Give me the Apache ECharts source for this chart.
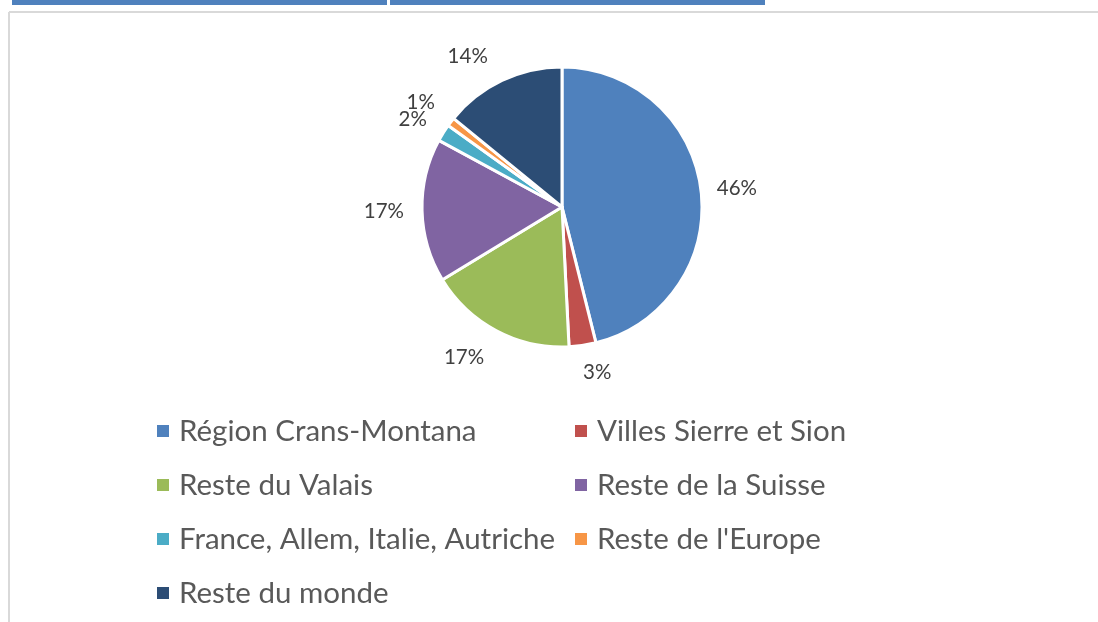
<!DOCTYPE html>
<html>
<head>
<meta charset="utf-8">
<script src="https://cdn.jsdelivr.net/npm/echarts@6/dist/echarts.min.js"></script>
<style>
  html, body { margin: 0; padding: 0; background: #fff; }
  #main { width: 1098px; height: 622px; }
</style>
</head>
<body>
<div id="main"></div>
<script>
// categories + values (share in %)
var categories = ['Région Crans-Montana', 'Villes Sierre et Sion', 'Reste du Valais', 'Reste de la Suisse',
                  'France, Allem, Italie, Autriche', "Reste de l'Europe", 'Reste du monde'];
var values = [46.1, 3.1, 17.1, 16.6, 2.0, 1.0, 14.1];
var colors = ['#4f81bd', '#c0504d', '#9bbb59', '#8064a2', '#4bacc6', '#f79646', '#2c4d75'];

// label line lengths per slice, to put the labels where excel put them
var lineLen = [15, 27, 30, 18, 25, 32, 27];
var lineLen2 = [1, -3.5, -1.7, 0, -4.8, -9.4, 2.6];

var chart = echarts.init(document.getElementById('main'));

var pieData = categories.map(function (name, i) {
    return {
        name: name,
        value: values[i],
        itemStyle: { color: colors[i] },
        labelLine: { show: false, length: lineLen[i], length2: lineLen2[i] }
    };
});

var legendText = { fontFamily: 'Lato', fontSize: 29.5, color: '#595959', lineHeight: 32, padding: [0, 0, 0, 4] };

var option = {
    animation: false,
    backgroundColor: '#fff',
    graphic: [
        // header bars + frame around the chart
        { type: 'rect', shape: { x: 12, y: 0, width: 375, height: 5 }, style: { fill: '#4f81bd' } },
        { type: 'rect', shape: { x: 390, y: 0, width: 375, height: 5 }, style: { fill: '#4f81bd' } },
        { type: 'line', shape: { x1: 9, y1: 12, x2: 1098, y2: 12 }, style: { stroke: '#d9d9d9', lineWidth: 2 } },
        { type: 'line', shape: { x1: 9, y1: 12, x2: 9, y2: 622 }, style: { stroke: '#d9d9d9', lineWidth: 2 } }
    ],
    legend: [{
        orient: 'vertical',
        left: 155,
        top: 415,
        padding: 0,
        icon: 'rect',
        itemWidth: 14,
        itemHeight: 14,
        itemGap: 22,
        data: [categories[0], categories[2], categories[4], categories[6]],
        textStyle: legendText
    }, {
        orient: 'vertical',
        left: 573,
        top: 415,
        padding: 0,
        icon: 'rect',
        itemWidth: 14,
        itemHeight: 14,
        itemGap: 22,
        data: [categories[1], categories[3], categories[5]],
        textStyle: legendText
    }],
    series: [{
        type: 'pie',
        center: [562, 207],
        radius: 140,
        startAngle: 90,
        clockwise: true,
        avoidLabelOverlap: false,
        labelLayout: { hideOverlap: false },
        itemStyle: { borderColor: '#fff', borderWidth: 3 },
        label: {
            position: 'outside',
            distanceToLabelLine: 0,
            fontFamily: 'Lato',
            fontSize: 20.5,
            color: '#404040',
            formatter: function (p) { return Math.round(p.percent) + '%'; }
        },
        emphasis: { disabled: true },
        data: pieData
    }]
};

chart.setOption(option);
</script>
</body>
</html>
